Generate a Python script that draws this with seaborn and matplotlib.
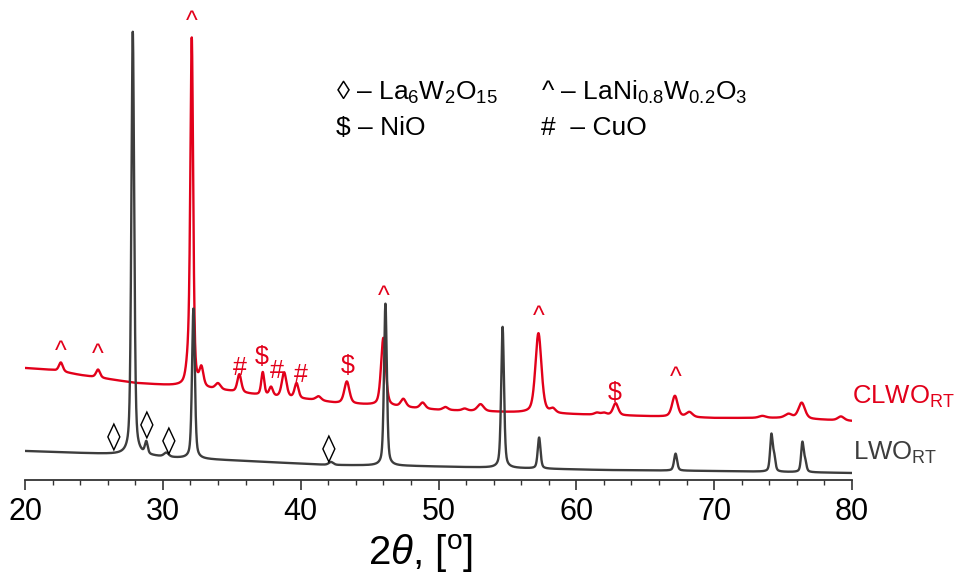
import numpy as np
import pandas as pd
import matplotlib
matplotlib.use("Agg")
import matplotlib.pyplot as plt
import seaborn as sns

# ---------------- data ----------------
# background (2theta, intensity) knots
lwo_bg_x = [20, 24, 28, 31, 36, 42, 48, 55, 62, 70, 80]
lwo_bg_y = [29, 27, 25, 22, 19, 15, 14, 12, 10, 9, 7]
clwo_bg_x = [20, 22, 24, 28, 31, 34.7, 36.3, 38, 41, 42.5, 45, 50, 54.5, 58.8, 64.6, 70, 75, 80]
clwo_bg_y = [112, 110, 105, 97, 94, 89, 86, 83, 80, 77, 75, 70, 68, 66, 64, 62, 62, 59]

# peaks: position, height above background, half width
lwo_pos = [27.82, 28.80, 30.25, 32.22, 42.2, 46.15, 54.65, 57.30, 67.20, 74.15, 74.35, 76.40, 76.60]
lwo_height = [423, 12, 4, 150, 3, 162, 141, 31, 17, 36, 14, 29, 10]
lwo_width = [0.12, 0.12, 0.2, 0.12, 0.2, 0.12, 0.12, 0.12, 0.13, 0.11, 0.11, 0.11, 0.11]

clwo_pos = [22.6, 25.3, 31.9, 32.1, 32.8, 34.0, 35.55, 37.25, 37.85, 38.8, 39.7, 41.3,
            43.35, 46.0, 47.45, 48.85, 50.5, 51.9, 53.05, 57.25, 58.3, 61.5, 62.0,
            62.85, 67.15, 68.2, 73.5, 75.4, 76.35, 79.2]
clwo_height = [9, 8, 25, 337, 18, 6, 18, 23, 9, 25, 15, 4,
               22, 68, 8, 6, 3, 2, 7, 80, 4, 2, 2,
               12, 21, 5, 2, 4, 16, 4]
clwo_width = [0.17, 0.17, 0.2, 0.12, 0.17, 0.22, 0.17, 0.13, 0.16, 0.2, 0.17, 0.22,
              0.22, 0.2, 0.22, 0.22, 0.22, 0.22, 0.27, 0.26, 0.22, 0.22, 0.22,
              0.22, 0.24, 0.27, 0.3, 0.3, 0.28, 0.27]

samples = ["CLWO", "LWO"]
sample_labels = [r"CLWO$_\mathregular{RT}$", r"LWO$_\mathregular{RT}$"]

# phase markers: symbol, 2theta, height
red_marks = ["^", "^", "^", "#", "$", "#", "#", "$", "^", "^", "$", "^"]
red_mark_x = [22.6, 25.3, 32.1, 35.6, 37.2, 38.3, 40.0, 43.4, 46.0, 57.25, 62.8, 67.2]
red_mark_y = [128, 125, 458, 112, 123, 109, 105, 114, 183, 163, 87, 102]
dia_x = [26.43, 28.85, 30.42, 42.06]
dia_y = [43, 55, 39, 31]

legend_lines = [("\u25CA \u2013 La$_\\mathregular{6}$W$_\\mathregular{2}$O$_\\mathregular{15}$",
                 "^ \u2013 LaNi$_\\mathregular{0.8}$W$_\\mathregular{0.2}$O$_\\mathregular{3}$"),
                ("$ \u2013 NiO", "#  \u2013 CuO")]

x_ticks = [20, 30, 40, 50, 60, 70, 80]

# ---------------- build curves ----------------
tt = np.arange(20.0, 80.0001, 0.01)


def pattern(bx, by, pos, hgt, wid, eta=0.45):
    y = np.interp(tt, bx, by).astype(float)
    for c, h, w in zip(pos, hgt, wid):
        d = (tt - c) / w
        y += h * (eta / (1 + d ** 2) + (1 - eta) * np.exp(-np.log(2) * d ** 2))
    return y


y_clwo = pattern(clwo_bg_x, clwo_bg_y, clwo_pos, clwo_height, clwo_width)
y_lwo = pattern(lwo_bg_x, lwo_bg_y, lwo_pos, lwo_height, lwo_width)
df = pd.concat([
    pd.DataFrame({"two_theta": tt, "intensity": y_clwo, "sample": "CLWO"}),
    pd.DataFrame({"two_theta": tt, "intensity": y_lwo, "sample": "LWO"}),
])

# ---------------- plot ----------------
sns.set_style("white")
plt.rcParams["font.family"] = ["Liberation Sans", "DejaVu Sans"]
plt.rcParams["mathtext.fontset"] = "custom"
plt.rcParams["mathtext.rm"] = "Liberation Sans"
plt.rcParams["mathtext.it"] = "Liberation Sans:italic"

RED = "#E2001A"
DARK = "#3D3D3D"

fig = plt.figure(figsize=(9.58, 5.78), dpi=100)
ax = fig.add_axes([25 / 958, 98 / 578, 827 / 958, 480 / 578])
sns.lineplot(data=df, x="two_theta", y="intensity", hue="sample", hue_order=samples,
             palette={"CLWO": RED, "LWO": DARK}, linewidth=1.7, legend=False,
             estimator=None, sort=False, ax=ax)

ax.set_xlim(20, 80)
ax.set_ylim(0, 480)
for s in ["left", "right", "top"]:
    ax.spines[s].set_visible(False)
ax.spines["bottom"].set_color("#333333")
ax.spines["bottom"].set_linewidth(1.3)
ax.set_yticks([])
ax.set_ylabel("")
ax.set_xticks(x_ticks)
ax.set_xticks(np.arange(20, 81, 2), minor=True)
ax.tick_params(axis="x", which="major", direction="out", length=7, width=1.2,
               color="#333333", labelsize=22, pad=5, labelcolor="black")
ax.tick_params(axis="x", which="minor", direction="out", length=3.5, width=1.0,
               color="#333333")
ax.tick_params(axis="x", which="both", bottom=True)
ax.set_xlabel(r"$\mathregular{2}\theta$, [$^\mathregular{o}$]", fontsize=29, color="black")
ax.xaxis.set_label_coords(0.478, -0.108)

for sym, x, y in zip(red_marks, red_mark_x, red_mark_y):
    ax.text(x, y, sym, color=RED, fontsize=18, ha="center", va="center")
for x, y in zip(dia_x, dia_y):
    ax.text(x, y, "\u25CA", color="black", fontsize=20, ha="center", va="center",
            family=["DejaVu Sans"])

leg_x = [42.56, 57.44]
leg_y = [388, 352]
for row, ly in zip(legend_lines, leg_y):
    for txt, lx in zip(row, leg_x):
        ax.text(lx, ly, txt, color="black", fontsize=19, ha="left", va="center")

ax.text(1.0, 83.5, sample_labels[0], color=RED, fontsize=18.5, ha="left", va="center",
        transform=ax.get_yaxis_transform())
ax.text(1.001, 27, sample_labels[1], color=DARK, fontsize=18.5, ha="left", va="center",
        transform=ax.get_yaxis_transform())

fig.savefig("out.png", dpi=100)
